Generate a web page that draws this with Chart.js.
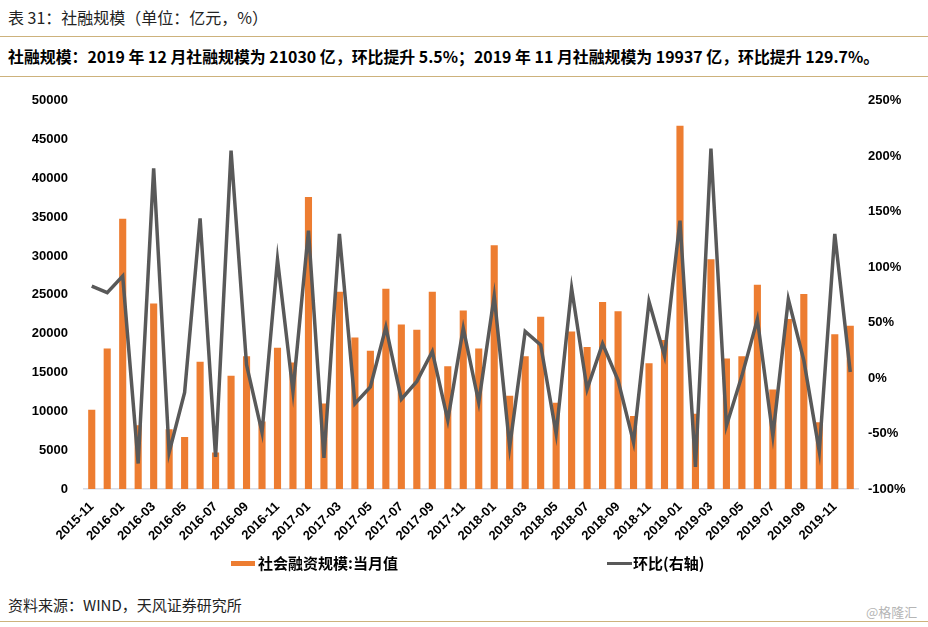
<!DOCTYPE html>
<html>
<head>
<meta charset="utf-8">
<script src="https://cdn.jsdelivr.net/npm/chart.js@4"></script>
<style>
  body { margin: 0; background: #fff; }
  #page { position: relative; width: 928px; height: 627px; overflow: hidden; font-family: "Noto Sans CJK SC", "Liberation Sans", sans-serif; color: #222; }
  .rule { position: absolute; left: 0; width: 928px; height: 0; border-top: 1.5px solid #cdb27c; }
  .txt { position: absolute; white-space: nowrap; }
  #title { left: 8px; top: 6px; font-size: 16px; line-height: 22px; font-weight: 400; }
  #subtitle { left: 8px; top: 46px; font-size: 15.9px; line-height: 22px; font-weight: 700; color: #000; }
  #source { left: 8px; top: 594px; font-size: 15px; line-height: 22px; }
  #mark { left: 866px; top: 602px; font-size: 13px; line-height: 20px; color: #b5b5b5; }
  #chartBox { position: absolute; left: 0; top: 77px; }
  .legend { position: absolute; top: 552px; font-size: 15px; line-height: 22px; font-weight: 700; color: #000; }
  .sw { position: absolute; }
</style>
</head>
<body>
<div id="page">
  <div id="title" class="txt">表 31：社融规模（单位：亿元，%）</div>
  <div class="rule" style="top:36px"></div>
  <div id="subtitle" class="txt">社融规模：2019 年 12 月社融规模为 21030 亿，环比提升 5.5%；2019 年 11 月社融规模为 19937 亿，环比提升 129.7%。</div>
  <div class="rule" style="top:76px"></div>
  <div id="chartBox"><canvas id="chart" width="928" height="478"></canvas></div>
  <div class="sw" style="left:231px; top:561px; width:24px; height:5px; background:#ED7D31"></div>
  <div class="legend" style="left:258px">社会融资规模:当月值</div>
  <div class="sw" style="left:607px; top:562px; width:25px; height:3px; background:#595959"></div>
  <div class="legend" style="left:633px">环比(右轴)</div>
  <div id="source" class="txt">资料来源：WIND，天风证券研究所</div>
  <div id="mark" class="txt">@格隆汇</div>
  <div class="rule" style="top:621px"></div>
</div>
<script>
// --- Data ---
const months = [
  '2015-11', '2015-12',
  '2016-01', '2016-02', '2016-03', '2016-04', '2016-05', '2016-06', '2016-07', '2016-08', '2016-09', '2016-10', '2016-11', '2016-12',
  '2017-01', '2017-02', '2017-03', '2017-04', '2017-05', '2017-06', '2017-07', '2017-08', '2017-09', '2017-10', '2017-11', '2017-12',
  '2018-01', '2018-02', '2018-03', '2018-04', '2018-05', '2018-06', '2018-07', '2018-08', '2018-09', '2018-10', '2018-11', '2018-12',
  '2019-01', '2019-02', '2019-03', '2019-04', '2019-05', '2019-06', '2019-07', '2019-08', '2019-09', '2019-10', '2019-11', '2019-12'
];

// 社会融资规模:当月值 (亿元)
const socialFinancing = [
  10200, 18100,
  34800, 8200, 23900, 7700, 6700, 16400, 4700, 14600, 17100, 8700, 18200, 16300,
  37600, 11000, 25400, 19500, 17800, 25800, 21200, 20500, 25400, 15800, 23000, 18100,
  31400, 12000, 17100, 22200, 11100, 20300, 18300, 24100, 22900, 9400, 16200, 19200,
  46800, 9700, 29600, 16800, 17100, 26300, 12800, 21900, 25100, 8600, 19937, 21030
];

// 环比 (%), right axis
const momChange = [
  83, 77,
  92, -77, 189, -67, -13, 144, -71, 205, 12, -49, 107, -12,
  133, -72, 130, -23, -8, 46, -19, -3, 24, -38, 45, -22,
  74, -62, 42, 30, -50, 81, -10, 31, -2, -58, 69, 20,
  142, -80, 207, -43, 2, 53, -52, 71, 16, -66, 130, 5.5
];

const leftAxisRange = [0, 50000, 5000];
const rightAxisRange = [-100, 250, 50];

// --- Chart ---
const tickFont = { family: '"Liberation Sans", Arial, sans-serif', size: 13, weight: 'bold' };

new Chart(document.getElementById('chart'), {
  data: {
    labels: months,
    datasets: [
      {
        type: 'line',
        label: '环比(右轴)',
        data: momChange,
        yAxisID: 'yRight',
        borderColor: '#595959',
        borderWidth: 3.5,
        tension: 0,
        pointRadius: 0,
        fill: false,
        order: 1
      },
      {
        type: 'bar',
        label: '社会融资规模:当月值',
        data: socialFinancing,
        yAxisID: 'yLeft',
        backgroundColor: '#ED7D31',
        categoryPercentage: 1,
        barPercentage: 0.46,
        order: 2
      }
    ]
  },
  options: {
    responsive: false,
    animation: false,
    layout: { padding: 0 },
    plugins: { legend: { display: false }, tooltip: { enabled: false } },
    scales: {
      x: {
        grid: { display: false },
        border: { color: '#d6dce6', width: 1.5 },
        ticks: {
          autoSkip: false,
          maxRotation: 45,
          minRotation: 45,
          color: '#000',
          font: { family: '"Liberation Sans", Arial, sans-serif', size: 13, weight: 'bold' },
          padding: 2,
          callback: (v, i) => (i % 2 === 0 ? months[i] : '')
        },
        afterFit: s => { s.height = 66; }
      },
      yLeft: {
        position: 'left',
        min: leftAxisRange[0],
        max: leftAxisRange[1],
        grid: { display: false, drawTicks: false },
        border: { display: false },
        ticks: { stepSize: leftAxisRange[2], color: '#000', font: tickFont, padding: 16, callback: v => String(v) },
        afterFit: s => { s.width = 84; }
      },
      yRight: {
        position: 'right',
        min: rightAxisRange[0],
        max: rightAxisRange[1],
        grid: { display: false, drawTicks: false },
        border: { display: false },
        ticks: { stepSize: rightAxisRange[2], color: '#000', font: tickFont, padding: 10, callback: v => v + '%' },
        afterFit: s => { s.width = 70; }
      }
    }
  }
});
</script>
</body>
</html>
